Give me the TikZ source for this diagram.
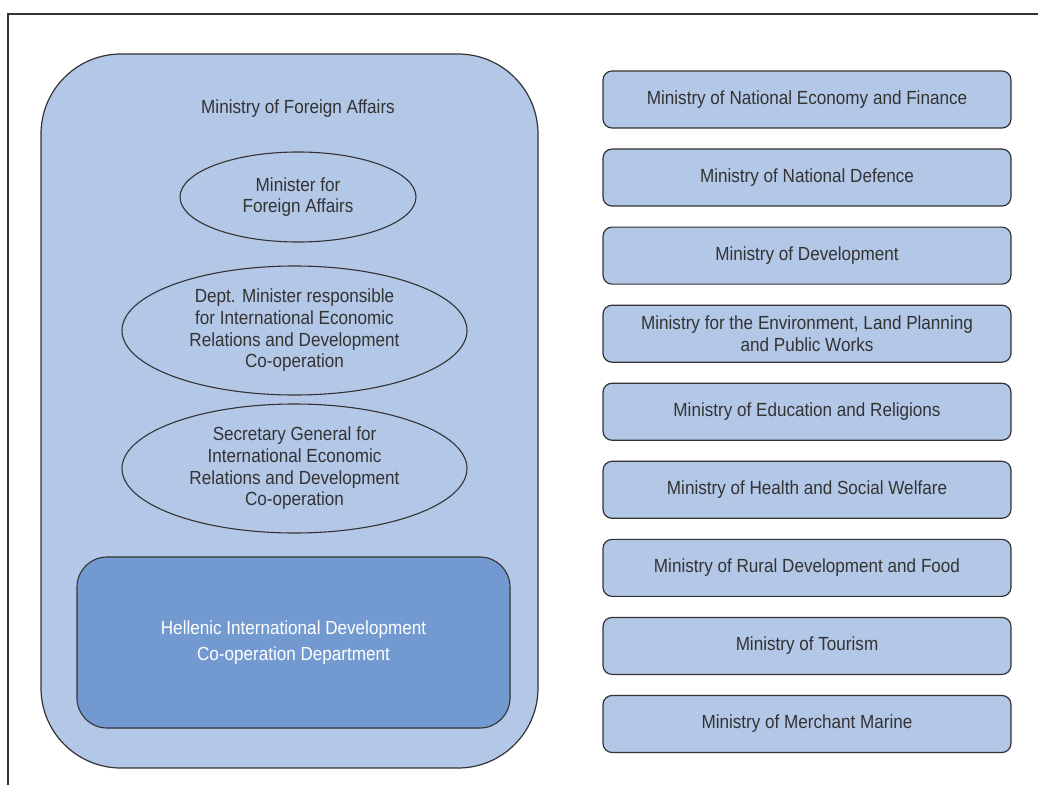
\documentclass[tikz,border=0pt]{standalone}
\usepackage{fontspec}
\setmainfont{Liberation Sans}[FakeStretch=0.9]
\usetikzlibrary{shapes.geometric}
\definecolor{boxblue}{HTML}{B3C7E7}
\definecolor{deptblue}{HTML}{7399D1}
\definecolor{linegray}{HTML}{333333}

\begin{document}
\begin{tikzpicture}[
    x=1pt, y=-1pt,
    every node/.style={font=\fontsize{19}{21.7}\selectfont, text=linegray, align=center},
    outer/.style={draw=linegray, fill=boxblue, line width=1.2pt, rounded corners=80pt, minimum width=497pt, minimum height=714pt},
    role/.style={ellipse, draw=linegray, line width=1.1pt, inner sep=0pt},
    dept/.style={draw=linegray, fill=deptblue, line width=1.1pt, rounded corners=30pt, minimum width=433pt, minimum height=171pt, text=white},
    ministry/.style={draw=linegray, fill=boxblue, line width=1.2pt, rounded corners=9pt, minimum width=408pt, minimum height=57pt}
]
\useasboundingbox (0,0) rectangle (1038,784);

% frame
\draw[linegray, line width=1.3pt] (1040,14) -- (8,14) -- (8,786);

% Ministry of Foreign Affairs
\node[outer] (mfa) at (289.5,411) {};
\node (mfatitle) at (298,109) {Ministry of Foreign Affairs};

\node[role, minimum width=236pt, minimum height=90pt] (minister) at (298,197) {Minister for\\Foreign Affairs};
\node[role, minimum width=345pt, minimum height=129pt] (deputy) at (294.5,330.5) {Dept. Minister responsible\\for International Economic\\Relations and Development\\Co-operation};
\node[role, minimum width=345pt, minimum height=129pt] (secgen) at (294.5,468.5) {Secretary General for\\International Economic\\Relations and Development\\Co-operation};

\node[dept] (hidca) at (293.5,642.5) {Hellenic International Development\\[5pt]Co-operation Department};

% other ministries
\foreach \txt [count=\i] in {
    Ministry of National Economy and Finance,
    Ministry of National Defence,
    Ministry of Development,
    {Ministry for the Environment, Land Planning\\and Public Works},
    Ministry of Education and Religions,
    Ministry of Health and Social Welfare,
    Ministry of Rural Development and Food,
    Ministry of Tourism,
    Ministry of Merchant Marine}
  \node[ministry] (m\i) at (807, 99.5+78.06*\i-78.06) {\txt};

\end{tikzpicture}
\end{document}
